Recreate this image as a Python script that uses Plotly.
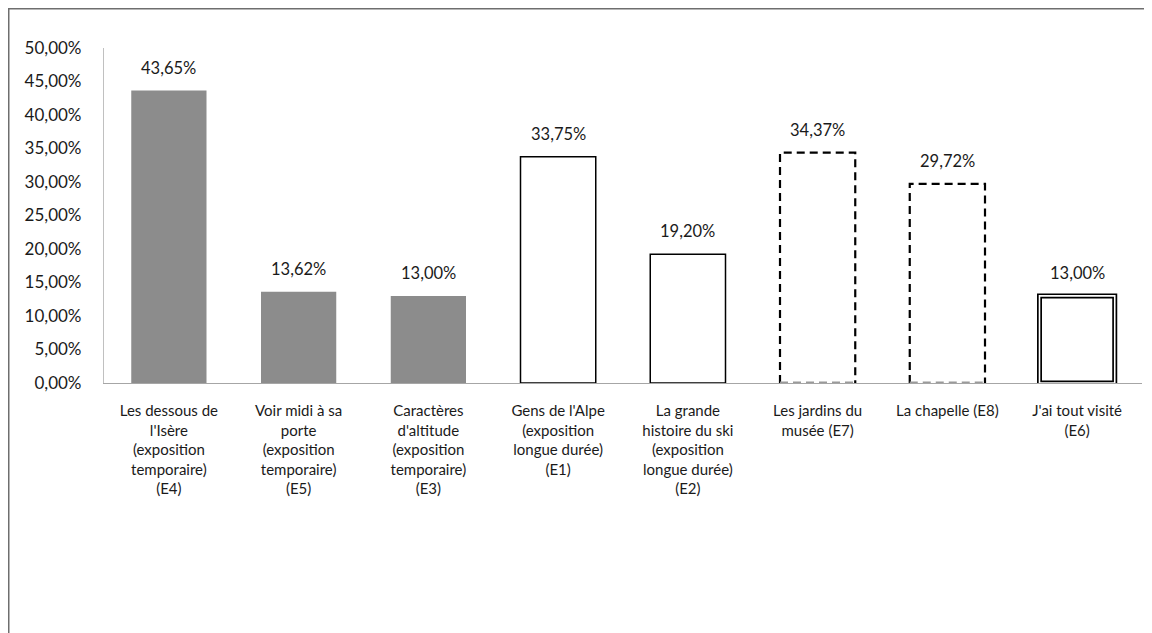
import plotly.graph_objects as go

categories = [
    "Les dessous de<br>l'Isère<br>(exposition<br>temporaire)<br>(E4)",
    "Voir midi à sa<br>porte<br>(exposition<br>temporaire)<br>(E5)",
    "Caractères<br>d'altitude<br>(exposition<br>temporaire)<br>(E3)",
    "Gens de l'Alpe<br>(exposition<br>longue durée)<br>(E1)",
    "La grande<br>histoire du ski<br>(exposition<br>longue durée)<br>(E2)",
    "Les jardins du<br>musée (E7)",
    "La chapelle (E8)",
    "J'ai tout visité<br>(E6)",
]
values = [0.4365, 0.1362, 0.1300, 0.3375, 0.1920, 0.3437, 0.2972, 0.1300]
y_ticks = [0, 0.05, 0.10, 0.15, 0.20, 0.25, 0.30, 0.35, 0.40, 0.45, 0.50]

# style groups (indices into categories)
grey_idx = [0, 1, 2]
solid_idx = [3, 4]
dashed_idx = [5, 6]
double_idx = [7]

W = 0.58
FONT = "Lato, Carlito, Calibri, sans-serif"
TXT = "#1a1a1a"

L, T, PW, PH = 96, 40, 1038, 335

fig = go.Figure()

def sub(idx):
    return [i for i in idx], [values[i] for i in idx]

x, y = sub(grey_idx)
fig.add_trace(go.Bar(x=x, y=y, width=W, marker=dict(color="#8c8c8c", line=dict(width=0))))

x, y = sub(solid_idx)
fig.add_trace(go.Bar(x=x, y=y, width=W, marker=dict(color="white", line=dict(color="black", width=1.5))))

x, y = sub(dashed_idx)
fig.add_trace(go.Bar(x=x, y=y, width=W, marker=dict(color="white", line=dict(width=0))))
for i in dashed_idx:
    v = values[i]
    fig.add_trace(go.Scatter(
        x=[i - W / 2, i - W / 2, i + W / 2, i + W / 2], y=[0, v, v, 0],
        mode="lines", line=dict(color="black", width=2.2, dash="8px,5px"),
        hoverinfo="skip"))
    fig.add_trace(go.Scatter(
        x=[i - W / 2, i + W / 2], y=[0.0012, 0.0012],
        mode="lines", line=dict(color="#9a9a9a", width=1.5, dash="8px,5px"),
        hoverinfo="skip"))

x, y = sub(double_idx)
fig.add_trace(go.Bar(x=x, y=y, width=W, marker=dict(color="white", line=dict(color="black", width=5))))
fig.add_trace(go.Bar(x=x, y=y, width=W, marker=dict(color="rgba(0,0,0,0)", line=dict(color="white", width=1.6))))

for i, v in enumerate(values):
    fig.add_annotation(
        x=i, y=v, text=f"{v * 100:.2f}%".replace(".", ","),
        showarrow=False, yanchor="bottom", yshift=11,
        font=dict(family=FONT, size=16.5, color=TXT))

fig.update_layout(
    width=1152, height=633,
    barmode="overlay",
    showlegend=False,
    paper_bgcolor="white", plot_bgcolor="white",
    margin=dict(l=L, r=1152 - L - PW, t=T, b=633 - T - PH),
    font=dict(family=FONT, size=16, color=TXT),
    separators=", ",
    shapes=[dict(type="rect", xref="paper", yref="paper",
                 x0=(0.5 - L) / PW, x1=1.1, y0=-0.9, y1=1 + (T - 0.5) / PH,
                 line=dict(color="#6e6e6e", width=2), layer="below")],
)
fig.update_xaxes(
    range=[-0.5, len(categories) - 0.5],
    tickmode="array", tickvals=list(range(len(categories))), ticktext=categories,
    showline=True, linecolor="#a6a6a6", linewidth=1.2,
    showgrid=False, zeroline=False, ticks="", ticklabelstandoff=14,
    tickfont=dict(family=FONT, size=15, color=TXT),
)
fig.update_yaxes(
    range=[0, 0.5], tickvals=y_ticks, tickformat=".2%",
    showline=True, linecolor="#c0c0c0", linewidth=1.2,
    showgrid=False, zeroline=False, ticks="", ticklabelstandoff=18,
    tickfont=dict(family=FONT, size=17, color=TXT),
)

fig.write_html("out.html")
